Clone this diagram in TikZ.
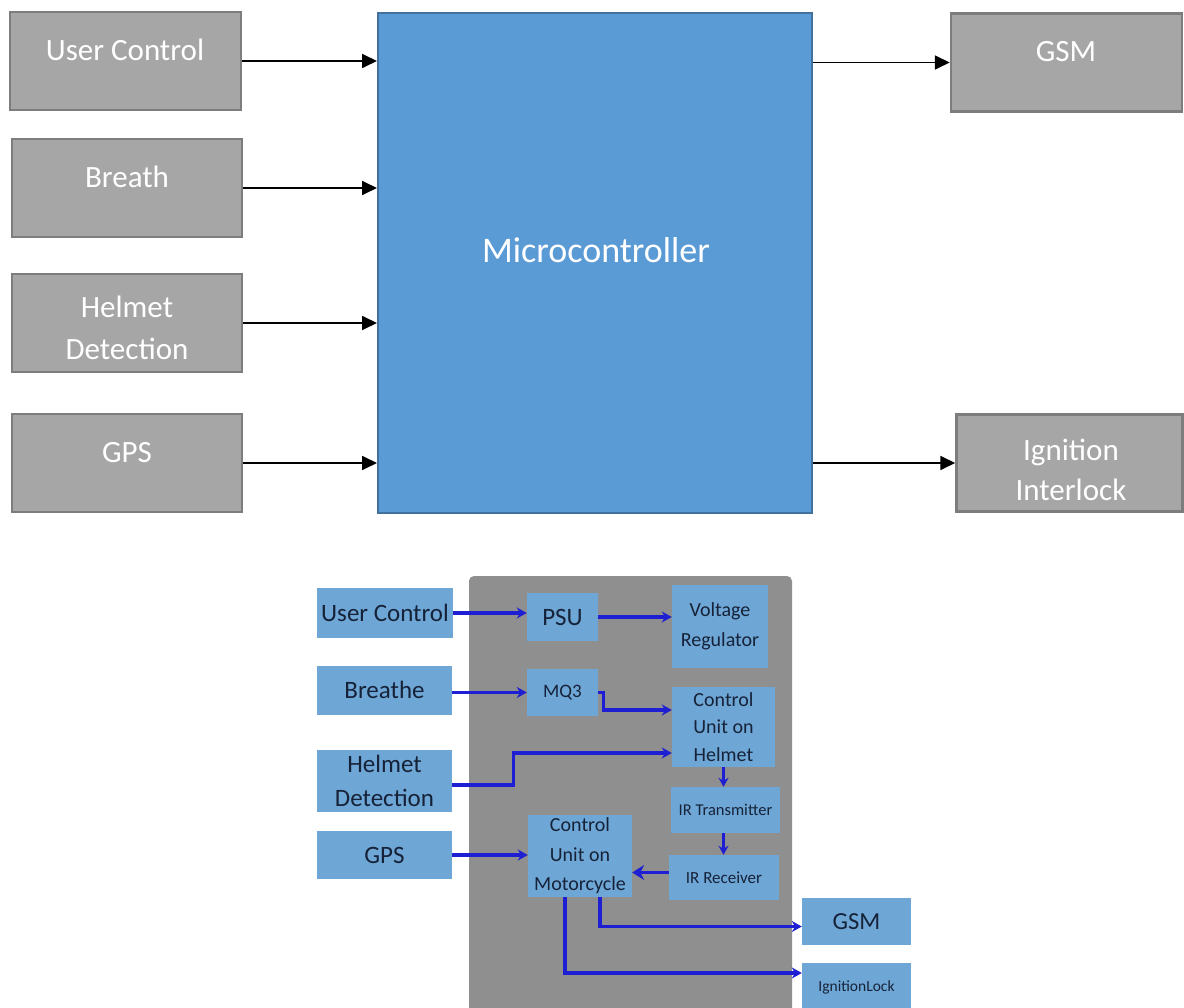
\documentclass[tikz,border=0pt]{standalone}
\usepackage{fontspec}
\setmainfont{Carlito}
\usetikzlibrary{arrows.meta}
\definecolor{gfill}{RGB}{166,166,166}
\definecolor{gdraw}{RGB}{125,125,125}
\definecolor{mfill}{RGB}{91,155,213}
\definecolor{mdraw}{RGB}{65,113,156}
\definecolor{panel}{RGB}{143,143,143}
\definecolor{lb}{RGB}{110,166,214}
\definecolor{ink}{RGB}{22,34,56}
\definecolor{wire}{RGB}{30,30,210}
\begin{document}
\begin{tikzpicture}[x=1pt,y=-1pt,
  gbox/.style={draw=gdraw,fill=gfill,line width=2.5pt,inner sep=0pt},
  gtxt/.style={text=white,font=\fontsize{31}{40}\selectfont,anchor=base,inner sep=0pt},
  arr/.style={line width=1.8pt,-{Triangle[length=15pt,width=14pt]}},
  bbox/.style={fill=lb,inner sep=0pt,text=ink,align=center},
  wirearr/.style={draw=wire,line width=3.2pt,-{Stealth[length=10pt,width=11pt]}},
  thinwire/.style={draw=wire,line width=2.4pt,-{Stealth[length=9pt,width=10pt]}},
]
\useasboundingbox (0,0) rectangle (1184,1008);
\fill[white] (0,0) rectangle (1184,1008);
% ---------- top diagram ----------
\node[gbox,minimum width=231pt,minimum height=98pt] (uc) at (125.5,61) {};
\node[gbox,minimum width=230pt,minimum height=98pt] (br) at (127,188) {};
\node[gbox,minimum width=230pt,minimum height=98pt] (hd) at (127,323) {};
\node[gbox,minimum width=230pt,minimum height=98pt] (gps) at (127,463) {};
\node[draw=mdraw,fill=mfill,line width=2pt,minimum width=434pt,minimum height=500pt,inner sep=0pt] (mc) at (595,263) {};
\node[gbox,minimum width=231pt,minimum height=98pt] (gsm) at (1066.5,62.5) {};
\node[gbox,minimum width=226pt,minimum height=97pt] (ign) at (1069.5,463) {};

\node[gtxt] at (125,61) {User Control};
\node[gtxt] at (127,188) {Breath};
\node[gtxt] at (127,318) {Helmet};
\node[gtxt] at (127,360) {Detection};
\node[gtxt] at (127,462) {GPS};
\node[gtxt] at (1066,62) {GSM};
\node[gtxt] at (1071,460) {Ignition};
\node[gtxt] at (1071,500) {Interlock};
\node[gtxt,font=\fontsize{36}{40}\selectfont] at (596,263) {Microcontroller};

\draw[arr] (uc.east) -- (uc.east -| mc.west);
\draw[arr] (br.east) -- (br.east -| mc.west);
\draw[arr] (hd.east) -- (hd.east -| mc.west);
\draw[arr] (gps.east) -- (gps.east -| mc.west);
\draw[arr] (mc.east |- gsm.west) -- (gsm.west);
\draw[arr] (mc.east |- ign.west) -- (ign.west);

% ---------- bottom diagram ----------
\fill[panel,rounded corners=5pt] (469,576) rectangle (792,1014);

\node[bbox,minimum width=136pt,minimum height=50pt,font=\fontsize{25}{30}\selectfont] (uc2) at (385,613) {User Control};
\node[bbox,minimum width=135pt,minimum height=49pt,font=\fontsize{25}{30}\selectfont] (br2) at (384.5,690) {Breathe};
\node[bbox,minimum width=135pt,minimum height=62pt,font=\fontsize{25}{34}\selectfont] (hd2) at (384.5,781) {Helmet\\Detection};
\node[bbox,minimum width=135pt,minimum height=48pt,font=\fontsize{25}{30}\selectfont] (gps2) at (384.5,855) {GPS};

\node[bbox,minimum width=71pt,minimum height=48pt,font=\fontsize{25}{30}\selectfont] (psu) at (562.5,617) {PSU};
\node[bbox,minimum width=71pt,minimum height=47pt,font=\fontsize{19}{24}\selectfont] (mq3) at (562.5,692.5) {MQ3};
\node[bbox,minimum width=96pt,minimum height=83pt,font=\fontsize{20}{30}\selectfont] (vr) at (720,626.5) {Voltage\\Regulator};
\node[bbox,minimum width=103pt,minimum height=80pt,font=\fontsize{20}{27.5}\selectfont] (cuh) at (723.5,727) {Control\\Unit on\\Helmet};
\node[bbox,minimum width=109pt,minimum height=46pt,font=\fontsize{16.5}{20}\selectfont] (irt) at (725.5,810) {IR Transmitter};
\node[bbox,minimum width=110pt,minimum height=45pt,font=\fontsize{17}{20}\selectfont] (irr) at (724,877.5) {IR Receiver};
\node[bbox,minimum width=104pt,minimum height=82pt,font=\fontsize{20}{29.5}\selectfont] (cum) at (580,856) {Control\\Unit on\\Motorcycle};
\node[bbox,minimum width=109pt,minimum height=47pt,font=\fontsize{24.5}{30}\selectfont] (gsm2) at (856.5,921.5) {GSM};
\node[bbox,minimum width=109pt,minimum height=48pt,font=\fontsize{15.5}{20}\selectfont] (ign2) at (856.5,987) {IgnitionLock};

\draw[wirearr] (uc2.east) -- (uc2.east -| psu.west);
\draw[wirearr] (psu.east) -- (psu.east -| vr.west);
\draw[wirearr] (br2.east |- mq3.west) -- (mq3.west);
\draw[wirearr] (mq3.east) -- ++(5,0) |- ([yshift=17pt]cuh.west);
\draw[wirearr] (hd2.east) ++(0,4) -- ++(61,0) |- ([yshift=-26pt]cuh.west);
\draw[thinwire] (cuh.south) -- (cuh.south |- irt.north);
\draw[thinwire] ([xshift=-2pt]irt.south) -- ([xshift=-2pt]irt.south |- irr.north);
\draw[wirearr,line width=3.6pt,-{Stealth[length=12pt,width=15pt]}] ([yshift=5pt]irr.west) -- ([yshift=5pt]irr.west -| cum.east);
\draw[wirearr] (gps2.east) -- (gps2.east -| cum.west);
\draw[wirearr] ([xshift=20pt]cum.south) |- ([yshift=-5pt]gsm2.west);
\draw[wirearr] ([xshift=-15pt]cum.south) |- ([yshift=14pt]ign2.west);
\end{tikzpicture}
\end{document}
